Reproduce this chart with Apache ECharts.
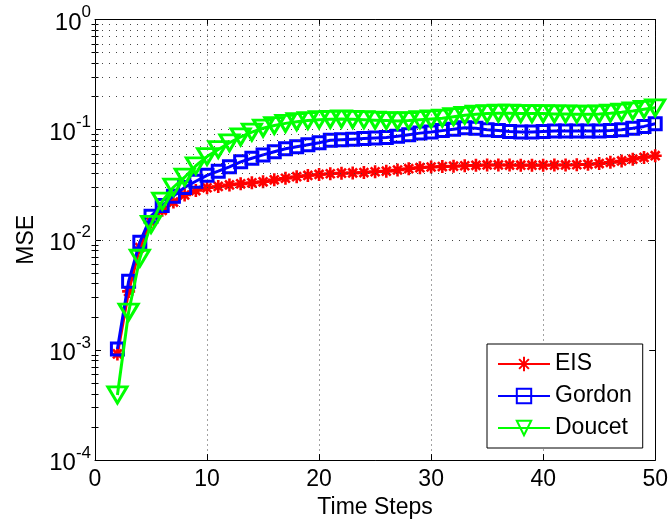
<!DOCTYPE html>
<html>
<head>
<meta charset="utf-8">
<script src="https://cdn.jsdelivr.net/npm/echarts@6/dist/echarts.min.js"></script>
<style>
html,body{margin:0;padding:0;background:#fff;}
#main{width:671px;height:524px;}
</style>
</head>
<body>
<div id="main"></div>
<script>
// time steps on x
var steps = [2,3,4,5,6,7,8,9,10,11,12,13,14,15,16,17,18,19,20,21,22,23,24,25,26,
             27,28,29,30,31,32,33,34,35,36,37,38,39,40,41,42,43,44,45,46,47,48,49,50];
// MSE values
var eis = [0.00092,0.0034,0.0085,0.0145,0.0185,0.022,0.0255,0.028,0.0297,0.0305,0.0315,0.0322,0.0329,
           0.0336,0.035,0.0362,0.0374,0.0384,0.0392,0.0398,0.0403,0.0405,0.0408,0.0415,0.042,0.043,
           0.0442,0.0452,0.0458,0.0462,0.0466,0.047,0.0474,0.0478,0.0478,0.0477,0.0476,0.0476,0.0476,
           0.0477,0.0478,0.048,0.0484,0.0492,0.0505,0.052,0.054,0.056,0.058];
var gordon = [0.00102,0.0042,0.0095,0.0164,0.0205,0.0249,0.0299,0.034,0.0385,0.042,0.046,0.051,0.055,
              0.059,0.063,0.067,0.07,0.073,0.076,0.08,0.081,0.082,0.083,0.084,0.085,0.087,
              0.09,0.093,0.095,0.098,0.101,0.104,0.103,0.1,0.098,0.096,0.095,0.095,0.096,
              0.097,0.097,0.097,0.097,0.097,0.098,0.1,0.103,0.107,0.113];
var doucet = [0.00039,0.0022,0.0068,0.0138,0.0224,0.03,0.037,0.047,0.057,0.066,0.076,0.086,0.095,
              0.103,0.109,0.114,0.118,0.121,0.123,0.124,0.125,0.124,0.123,0.122,0.121,0.12,
              0.121,0.123,0.125,0.127,0.131,0.135,0.138,0.14,0.141,0.141,0.14,0.14,0.14,
              0.139,0.139,0.138,0.138,0.139,0.141,0.144,0.148,0.153,0.158];
var seriesNames = ['EIS', 'Gordon', 'Doucet'];
var decades = [1e-4, 1e-3, 1e-2, 1e-1, 1];

// minor log grid positions (2..9 of each decade)
var minorVals = [];
decades.slice(0, -1).forEach(function(d){
  for (var k = 2; k <= 9; k++) minorVals.push(+(k * d).toPrecision(3));
});
var gridVals = minorVals.concat(decades.slice(1, -1));

function pairs(vals){
  return steps.map(function(s, i){ return [s, vals[i]]; });
}

var font = 'Liberation Sans, Arial, sans-serif';
var fs = 23;
var asterisk = 'path://M5,0L5,10M0,5L10,5M1.6,1.6L8.4,8.4M1.6,8.4L8.4,1.6';
var triDown = 'path://M0,0L10,0L5,8.66Z';

var myChart = echarts.init(document.getElementById('main'));
var option = {
  animation: false,
  backgroundColor: '#fff',
  textStyle: {fontFamily: font},
  grid: {left: 95, right: 14.5, top: 19.5, bottom: 62.5},
  legend: {
    data: seriesNames,
    orient: 'vertical',
    left: 487, top: 344,
    padding: [8, 11, 8, 10],
    itemWidth: 52, itemHeight: 18, itemGap: 8,
    backgroundColor: '#fff',
    borderColor: '#000', borderWidth: 1,
    textStyle: {fontSize: fs, color: '#000', lineHeight: 24, fontFamily: font}
  },
  xAxis: [{
    type: 'value', min: 0, max: 50, interval: 10,
    name: 'Time Steps', nameLocation: 'middle', nameGap: 33,
    nameTextStyle: {fontSize: fs, color: '#000', fontFamily: font},
    axisLine: {onZero: false, lineStyle: {color: '#000', width: 1}},
    axisTick: {inside: true, length: 6, lineStyle: {color: '#000'}},
    axisLabel: {fontSize: fs, color: '#000', margin: 8, fontFamily: font},
    splitLine: {show: true, lineStyle: {color: '#444', type: [1, 4], width: 1}}
  }, {
    type: 'value', min: 0, max: 50, interval: 10, position: 'top',
    axisLine: {onZero: false, lineStyle: {color: '#000', width: 1}},
    axisTick: {inside: true, length: 6, lineStyle: {color: '#000'}},
    axisLabel: {show: false}, splitLine: {show: false}
  }],
  yAxis: [{
    type: 'log', logBase: 10, min: 1e-4, max: 1,
    name: 'MSE', nameLocation: 'middle', nameGap: 56,
    nameTextStyle: {fontSize: fs, color: '#000', fontFamily: font},
    axisLine: {onZero: false, lineStyle: {color: '#000', width: 1}},
    axisTick: {inside: true, length: 6, lineStyle: {color: '#000'}},
    axisLabel: {
      margin: 4, color: '#000',
      formatter: function(v){
        var e = Math.round(Math.log10(v));
        return '{b|10}{s|' + (e === 0 ? '0' : '-' + Math.abs(e)) + '}';
      },
      rich: {
        b: {fontSize: 24, lineHeight: 31, verticalAlign: 'bottom', color: '#000', fontFamily: font},
        s: {fontSize: 17, lineHeight: 12, verticalAlign: 'top', color: '#000', fontFamily: font}
      }
    },
    splitLine: {show: false}
  }, {
    type: 'log', logBase: 10, min: 1e-4, max: 1, position: 'right',
    axisLine: {onZero: false, lineStyle: {color: '#000', width: 1}},
    axisTick: {inside: true, length: 6, lineStyle: {color: '#000'}},
    axisLabel: {show: false}, splitLine: {show: false}
  }, {
    type: 'log', logBase: 10, min: 1e-4, max: 1, position: 'left',
    axisLine: {show: false},
    axisTick: {inside: true, length: 3.5, customValues: minorVals, lineStyle: {color: '#000'}},
    axisLabel: {show: false}, splitLine: {show: false}
  }, {
    type: 'log', logBase: 10, min: 1e-4, max: 1, position: 'right',
    axisLine: {show: false},
    axisTick: {inside: true, length: 3.5, customValues: minorVals, lineStyle: {color: '#000'}},
    axisLabel: {show: false}, splitLine: {show: false}
  }],
  series: [{
    // dotted log grid
    type: 'line', data: [], silent: true, z: 1,
    markLine: {
      silent: true, symbol: ['none', 'none'], label: {show: false},
      lineStyle: {color: '#444', type: [1, 6], width: 1},
      data: gridVals.map(function(v){ return {yAxis: v}; })
    }
  }, {
    name: 'EIS', type: 'line', data: pairs(eis), z: 3,
    symbol: asterisk, symbolSize: 13,
    lineStyle: {color: '#ff0000', width: 3},
    itemStyle: {color: 'transparent', borderColor: '#ff0000', borderWidth: 2.6}
  }, {
    name: 'Gordon', type: 'line', data: pairs(gordon), z: 4,
    symbol: 'rect', symbolSize: 12,
    lineStyle: {color: '#0000ff', width: 3},
    itemStyle: {color: 'transparent', borderColor: '#0000ff', borderWidth: 3}
  }, {
    name: 'Doucet', type: 'line', data: pairs(doucet), z: 5,
    symbol: triDown, symbolSize: [19, 16],
    lineStyle: {color: '#00ff00', width: 3},
    itemStyle: {color: 'transparent', borderColor: '#00ff00', borderWidth: 3}
  }]
};
myChart.setOption(option);
</script>
</body>
</html>
